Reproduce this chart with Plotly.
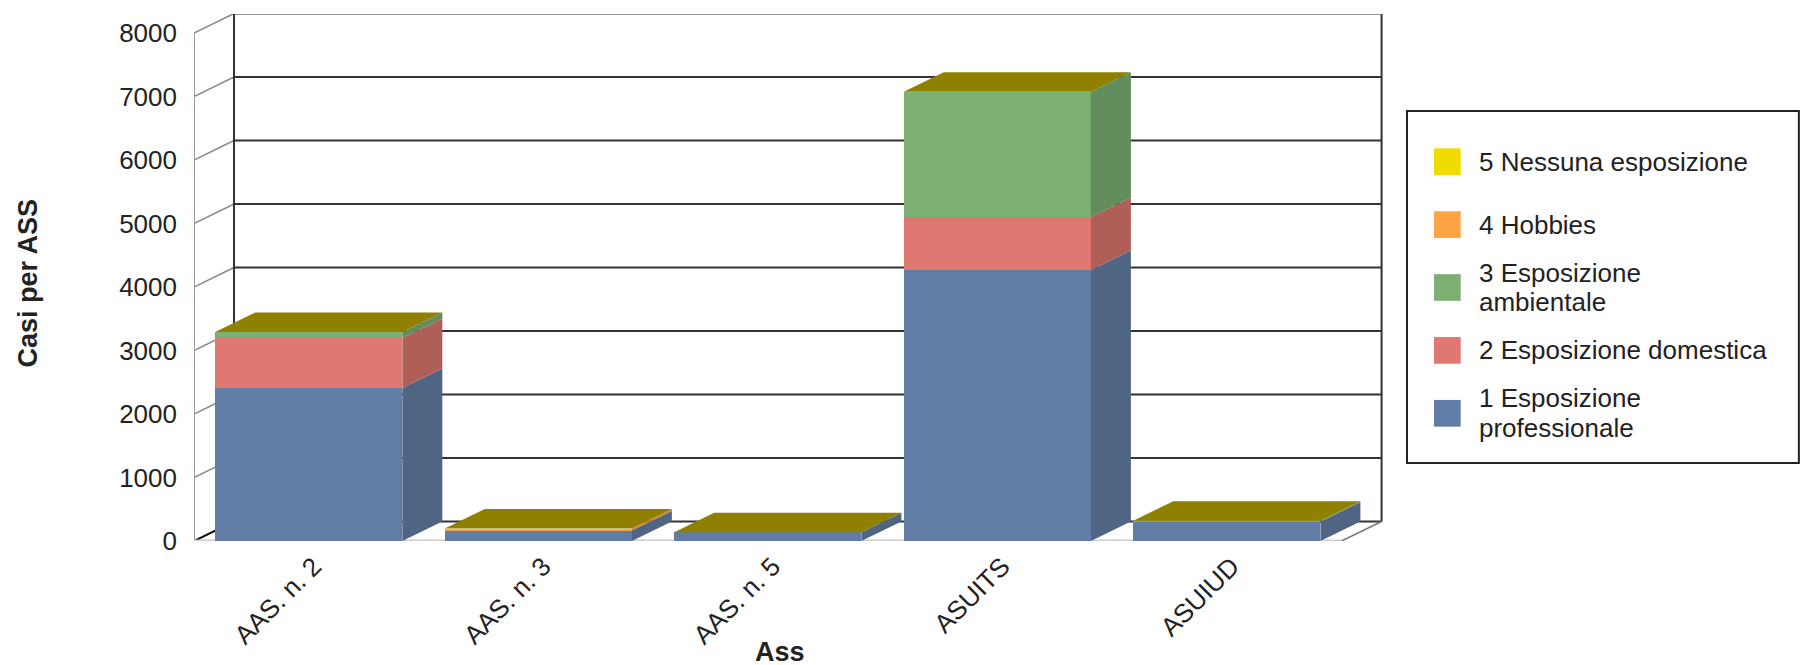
import plotly.graph_objects as go

categories = ["AAS. n. 2", "AAS. n. 3", "AAS. n. 5", "ASUITS", "ASUIUD"]
prof = [2410, 165, 137, 4268, 305]
dom = [787, 0, 0, 834, 0]
amb = [94, 0, 0, 1974, 15]
hob = [0, 30, 0, 0, 0]
none = [0, 0, 0, 0, 0]
y_ticks = [0, 1000, 2000, 3000, 4000, 5000, 6000, 7000, 8000]

series_names = ["1 Esposizione\nprofessionale", "2 Esposizione domestica",
                "3 Esposizione\nambientale", "4 Hobbies", "5 Nessuna esposizione"]
series_values = [prof, dom, amb, hob, none]
front_colors = ["#627DA5", "#DF7871", "#7BB072", "#FFA444", "#F0DC00"]
side_colors = ["#4F6583", "#B05F58", "#618C5B", "#CC8336", "#C0B000"]
top_color = "#8F8000"

W, H = 1800, 665
L, R, T, B = 193.6, 1383.0, 14.0, 541.0
PX_PER_CAT = 229.6
PX_PER_VAL = 63.5 / 1000
DEPTH_X = 40 / PX_PER_CAT
DEPTH_Y = 19.5 / PX_PER_VAL
BAR_W = 187.2 / PX_PER_CAT
X0 = -0.5
X1 = 4.5
XMAX = X0 + (R - L) / PX_PER_CAT
YMAX = (B - T) / PX_PER_VAL
FONT = "Liberation Sans, Arial, sans-serif"
TXT = "#222222"


def xp(px):
    return (px - L) / (R - L)


def yp(px):
    return (B - px) / (B - T)


fig = go.Figure()
base = [0] * len(categories)
for name, vals, fc, sc in zip(series_names, series_values, front_colors, side_colors):
    fig.add_trace(go.Bar(x=list(range(len(categories))), y=vals, width=BAR_W, base=base,
                         name=name.replace("\n", " "), marker=dict(color=fc, line=dict(width=0)),
                         showlegend=False))
    sx, sy = [], []
    for i, v in enumerate(vals):
        if v <= 0:
            continue
        xr = i + BAR_W / 2
        b = base[i]
        t = b + v
        sx += [xr, xr + DEPTH_X, xr + DEPTH_X, xr, xr, None]
        sy += [b, b + DEPTH_Y, t + DEPTH_Y, t, b, None]
    fig.add_trace(go.Scatter(x=sx, y=sy, mode="lines", fill="toself", fillcolor=sc,
                             line=dict(width=0), hoverinfo="skip", showlegend=False))
    base = [a + c for a, c in zip(base, vals)]

tx, ty = [], []
for i, t in enumerate(base):
    xl, xr = i - BAR_W / 2, i + BAR_W / 2
    tx += [xl, xr, xr + DEPTH_X, xl + DEPTH_X, xl, None]
    ty += [t, t, t + DEPTH_Y, t + DEPTH_Y, t, None]
fig.add_trace(go.Scatter(x=tx, y=ty, mode="lines", fill="toself", fillcolor=top_color,
                         line=dict(width=0), hoverinfo="skip", showlegend=False))

shapes = []


def seg(x0, y0, x1, y1, color, width):
    shapes.append(dict(type="line", xref="x", yref="y", x0=x0, y0=y0, x1=x1, y1=y1,
                       line=dict(color=color, width=width), layer="below"))


BX0 = X0 + DEPTH_X
BX1 = X1 + DEPTH_X
for v in y_ticks:
    seg(BX0, v + DEPTH_Y, BX1, v + DEPTH_Y, "#333333", 2)
    seg(X0, v, BX0, v + DEPTH_Y, "#000000" if v == 0 else "#8A8A8A", 2 if v == 0 else 1.5)
seg(BX0, DEPTH_Y, BX0, 8000 + DEPTH_Y, "#333333", 2)
seg(BX1, DEPTH_Y, BX1, 8000 + DEPTH_Y, "#333333", 2)
seg(X0, 0, X0, 8000, "#999999", 2)
seg(X0, 0, X1, 0, "#CCCCCC", 3)
seg(X1, 0, BX1, DEPTH_Y, "#777777", 1.5)

# Legend box
LEG_L, LEG_T, LEG_R, LEG_B = 1407, 111, 1799, 463
shapes.append(dict(type="rect", xref="paper", yref="paper", x0=xp(LEG_L), x1=xp(LEG_R),
                   y0=yp(LEG_B), y1=yp(LEG_T), line=dict(color="#222222", width=2),
                   fillcolor="white", layer="above"))
annotations = []
SW = 26.7
legend_order = [4, 3, 2, 1, 0]
for row, idx in enumerate(legend_order):
    cy = 161.7 + row * 62.9
    shapes.append(dict(type="rect", xref="paper", yref="paper", x0=xp(1434), x1=xp(1434 + SW),
                       y0=yp(cy + SW / 2), y1=yp(cy - SW / 2), line=dict(width=0),
                       fillcolor=front_colors[idx], layer="above"))
    lines = series_names[idx].split("\n")
    for j, line in enumerate(lines):
        ly = cy + (j - (len(lines) - 1) / 2) * 30
        annotations.append(dict(xref="paper", yref="paper", x=xp(1477), y=yp(ly), text=line,
                                showarrow=False, xanchor="left", yanchor="middle",
                                font=dict(family=FONT, size=26, color=TXT)))

annotations.append(dict(xref="paper", yref="paper", x=xp(780), y=yp(652), text="<b>Ass</b>",
                        showarrow=False, xanchor="center", yanchor="middle",
                        font=dict(family=FONT, size=27, color=TXT)))
annotations.append(dict(xref="paper", yref="paper", x=xp(28), y=yp(283), text="<b>Casi per ASS</b>",
                        textangle=-90, showarrow=False, xanchor="center", yanchor="middle",
                        font=dict(family=FONT, size=27, color=TXT)))

fig.update_layout(
    width=W, height=H, autosize=False,
    margin=dict(l=L, r=W - R, t=T, b=H - B, pad=0),
    paper_bgcolor="white", plot_bgcolor="white",
    barmode="overlay", bargap=0,
    showlegend=False, shapes=shapes, annotations=annotations,
    font=dict(family=FONT, size=26, color=TXT),
    xaxis=dict(range=[X0, XMAX], tickmode="array", tickvals=list(range(len(categories))),
               ticktext=categories, tickangle=-45, showgrid=False, zeroline=False, automargin=False,
               showline=False, ticks="", ticklabelstandoff=4, ticklabelshift=5,
               tickfont=dict(family=FONT, size=26, color=TXT)),
    yaxis=dict(range=[0, YMAX], tickmode="array", tickvals=y_ticks, showgrid=False, automargin=False,
               zeroline=False, showline=False, ticks="", ticklabelstandoff=16,
               tickformat="d", tickfont=dict(family=FONT, size=26, color=TXT)),
)
fig.write_html("out.html", config={"displayModeBar": False},
               post_script="document.body.style.margin='0';document.documentElement.style.overflow='hidden';")
